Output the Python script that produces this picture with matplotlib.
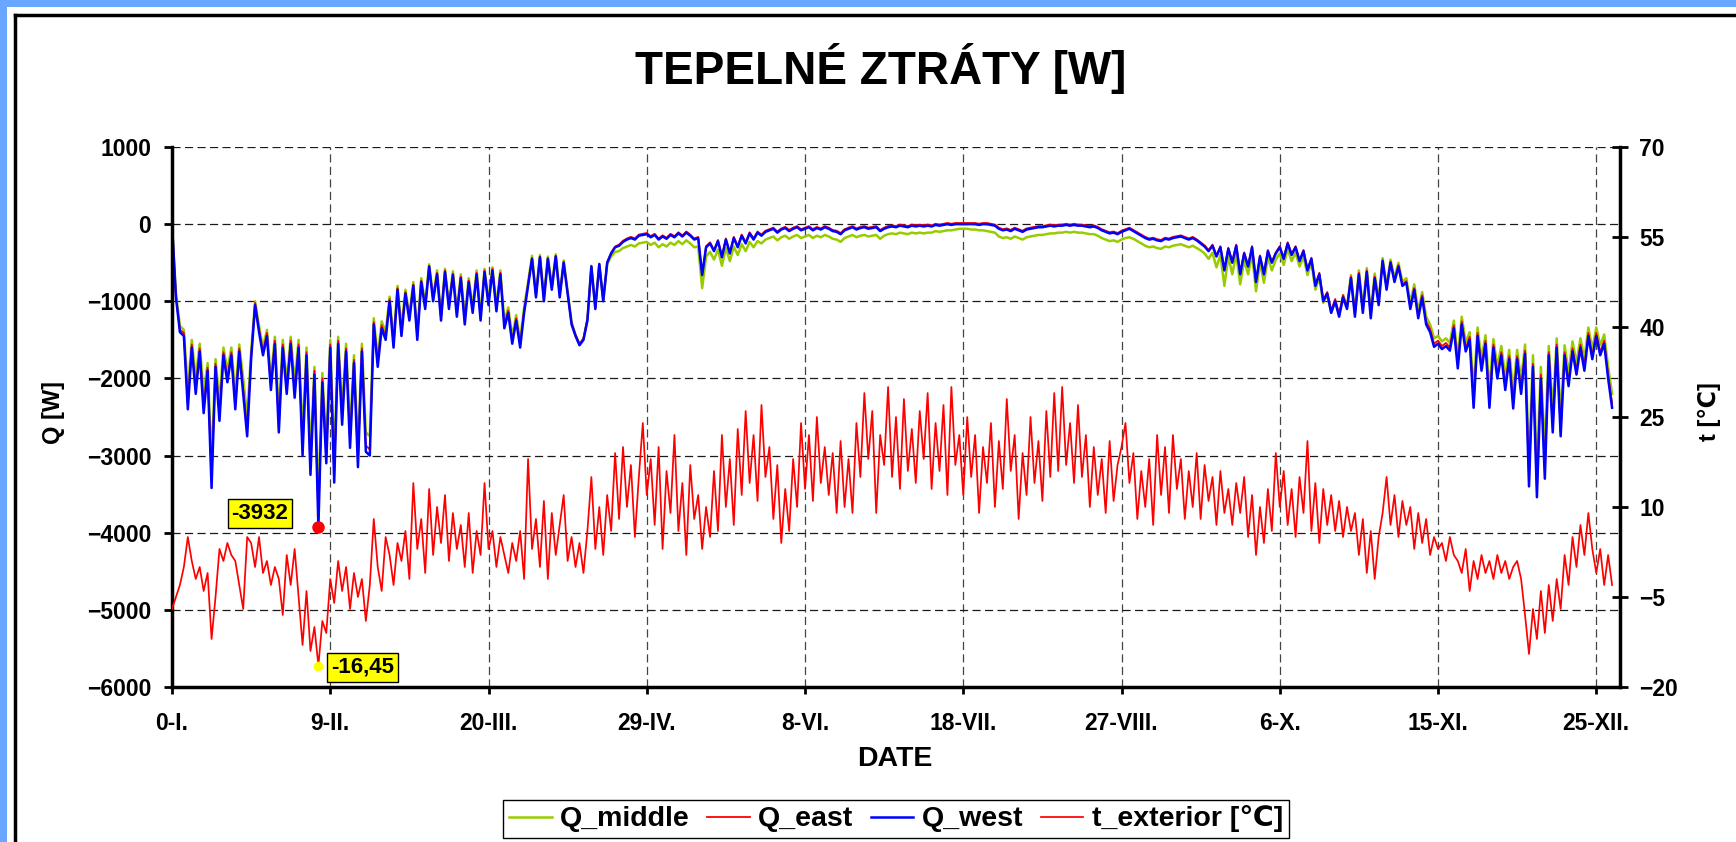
import numpy as np
import matplotlib
matplotlib.use("Agg")
import matplotlib.pyplot as plt
from matplotlib.patches import Rectangle
from matplotlib.lines import Line2D

plt.rcParams["font.family"] = ["Liberation Sans", "DejaVu Sans"]
plt.rcParams["font.weight"] = "bold"

# ------------------------------------------------------------
# Data (one value per day of the year)
# ------------------------------------------------------------
tick_days = [0, 40, 80, 120, 160, 200, 240, 280, 320, 360]
tick_labels = ["0-I.", "9-II.", "20-III.", "29-IV.", "8-VI.", "18-VII.",
               "27-VIII.", "6-X.", "15-XI.", "25-XII."]

# Q_west [W]
q_west = [
    0, -950, -1400, -1450, -2400, -1600, -2200, -1650, -2450, -1900,
    -3420, -1850, -2550, -1700, -2050, -1700, -2400, -1650, -2200, -2750,
    -1750, -1050, -1400, -1700, -1450, -2150, -1550, -2700, -1600, -2200,
    -1550, -2250, -1600, -3000, -1700, -3250, -1950, -3932, -2050, -3100,
    -1600, -3350, -1550, -2600, -1650, -2900, -1800, -3150, -1650, -2950,
    -3000, -1300, -1850, -1350, -1500, -1000, -1600, -850, -1450, -900,
    -1250, -800, -1500, -750, -1100, -550, -1000, -650, -1250, -620,
    -1100, -660, -1200, -700, -1300, -750, -1150, -650, -1250, -620,
    -1050, -600, -1130, -650, -1350, -1150, -1550, -1250, -1600, -1150,
    -800, -450, -950, -430, -1000, -450, -850, -420, -950, -500,
    -900, -1300, -1450, -1570, -1500, -1250, -550, -1100, -520, -1000,
    -500, -380, -300, -280, -230, -200, -180, -200, -150, -140,
    -130, -170, -140, -200, -160, -190, -140, -170, -120, -160,
    -110, -150, -200, -180, -660, -300, -250, -350, -220, -430,
    -200, -380, -180, -300, -150, -250, -120, -200, -110, -150,
    -100, -80, -60, -110, -70, -50, -90, -60, -40, -80,
    -60, -40, -80, -50, -70, -40, -60, -90, -100, -130,
    -80, -60, -40, -70, -50, -40, -60, -50, -40, -90,
    -60, -40, -30, -40, -20, -30, -40, -20, -30, -20,
    -30, -20, -30, -10, -20, -10, 0, -10, 0, 0,
    0, 0, 0, 0, -10, 0, 0, -10, -20, -60,
    -80, -70, -90, -60, -80, -100, -70, -60, -50, -40,
    -40, -30, -20, -30, -20, -20, -10, -20, -10, -20,
    -20, -30, -40, -30, -50, -80, -100, -120, -110, -130,
    -100, -80, -60, -90, -120, -150, -180, -200, -190, -210,
    -220, -190, -200, -180, -170, -160, -180, -200, -180, -210,
    -250, -290, -350, -280, -420, -300, -600, -320, -500, -280,
    -650, -380, -550, -300, -750, -420, -650, -350, -500, -380,
    -300, -450, -250, -400, -300, -480, -350, -600, -450, -800,
    -650, -1000, -900, -1150, -1000, -1200, -950, -1100, -700, -1200,
    -650, -1150, -620, -1220, -700, -1050, -480, -850, -500, -750,
    -550, -800, -760, -1100, -850, -1220, -950, -1300, -1400, -1590,
    -1550, -1620, -1580, -1640, -1350, -1870, -1300, -1650, -1500, -2380,
    -1450, -1900, -1550, -2380, -1600, -2000, -1700, -2150, -1750, -2390,
    -1750, -2200, -1680, -3400, -1850, -3540, -2000, -3300, -1700, -2700,
    -1600, -2750, -1700, -2100, -1650, -1950, -1600, -1900, -1450, -1750,
    -1450, -1700, -1550, -2000, -2380,
]

# Q_middle [W]
q_middle = [
    0, -900, -1320, -1370, -2150, -1500, -2000, -1550, -2200, -1800,
    -3100, -1750, -2300, -1600, -1900, -1600, -2200, -1560, -2000, -2500,
    -1650, -1000, -1320, -1600, -1370, -2000, -1460, -2450, -1500, -2050,
    -1460, -2050, -1500, -2750, -1600, -3000, -1850, -3600, -1930, -2850,
    -1500, -3050, -1460, -2400, -1550, -2650, -1700, -2900, -1550, -2700,
    -2750, -1220, -1720, -1260, -1400, -940, -1500, -800, -1350, -850,
    -1170, -750, -1400, -700, -1030, -520, -940, -600, -1170, -580,
    -1030, -610, -1120, -650, -1210, -700, -1080, -600, -1170, -580,
    -990, -560, -1060, -600, -1260, -1080, -1460, -1180, -1500, -1080,
    -750, -410, -900, -400, -940, -420, -800, -390, -900, -470,
    -870, -1270, -1440, -1560, -1490, -1230, -540, -1080, -520, -990,
    -520, -420, -360, -350, -310, -290, -270, -290, -250, -240,
    -230, -270, -240, -300, -260, -290, -240, -270, -220, -260,
    -210, -250, -300, -290, -830, -420, -360, -460, -330, -540,
    -310, -480, -290, -400, -260, -350, -230, -300, -220, -250,
    -200, -180, -160, -210, -170, -150, -190, -160, -140, -180,
    -160, -140, -180, -150, -170, -140, -160, -190, -200, -230,
    -180, -160, -140, -170, -150, -140, -160, -150, -140, -190,
    -150, -130, -120, -130, -110, -120, -130, -110, -120, -110,
    -120, -110, -110, -90, -100, -90, -80, -80, -70, -60,
    -60, -60, -70, -70, -80, -80, -90, -100, -110, -160,
    -180, -170, -190, -160, -180, -200, -170, -160, -150, -140,
    -140, -130, -120, -120, -110, -110, -100, -110, -100, -110,
    -110, -120, -130, -130, -150, -180, -200, -220, -210, -230,
    -200, -180, -170, -190, -220, -250, -280, -300, -290, -310,
    -320, -290, -300, -280, -270, -260, -280, -300, -280, -310,
    -340, -380, -450, -370, -560, -400, -800, -420, -650, -380,
    -780, -470, -650, -390, -870, -500, -760, -430, -600, -460,
    -380, -530, -320, -480, -370, -550, -420, -660, -500, -850,
    -690, -1020, -910, -1150, -990, -1180, -920, -1070, -660, -1150,
    -600, -1080, -570, -1150, -640, -980, -440, -800, -460, -700,
    -500, -750, -700, -1020, -780, -1130, -880, -1200, -1300, -1480,
    -1450, -1520, -1480, -1540, -1250, -1730, -1200, -1530, -1400, -2150,
    -1340, -1750, -1440, -2150, -1490, -1850, -1580, -1980, -1630, -2170,
    -1630, -2020, -1560, -3050, -1700, -3150, -1850, -2950, -1580, -2450,
    -1480, -2500, -1570, -1930, -1520, -1800, -1480, -1750, -1340, -1620,
    -1340, -1570, -1430, -1850, -2200,
]

# Q_east [W]
q_east = [
    0, -940, -1370, -1410, -2330, -1560, -2140, -1610, -2380, -1860,
    -3330, -1810, -2480, -1660, -2000, -1660, -2340, -1610, -2140, -2670,
    -1710, -1020, -1360, -1660, -1410, -2090, -1510, -2630, -1560, -2140,
    -1510, -2190, -1560, -2920, -1660, -3160, -1900, -3820, -2000, -3010,
    -1560, -3260, -1510, -2530, -1610, -2820, -1760, -3060, -1610, -2870,
    -2920, -1270, -1800, -1310, -1460, -970, -1560, -830, -1410, -880,
    -1220, -780, -1460, -730, -1070, -540, -970, -630, -1220, -600,
    -1070, -640, -1170, -680, -1260, -730, -1120, -630, -1220, -600,
    -1020, -580, -1100, -630, -1310, -1120, -1510, -1220, -1560, -1120,
    -780, -440, -930, -420, -980, -440, -830, -410, -930, -490,
    -890, -1280, -1430, -1550, -1480, -1230, -540, -1080, -510, -980,
    -490, -370, -290, -265, -215, -185, -165, -185, -135, -125,
    -115, -155, -125, -185, -145, -175, -125, -155, -105, -145,
    -95, -135, -185, -165, -640, -285, -235, -335, -205, -410,
    -185, -365, -165, -285, -135, -235, -105, -185, -95, -135,
    -85, -65, -45, -95, -55, -35, -75, -45, -25, -65,
    -45, -25, -65, -35, -55, -25, -45, -75, -85, -115,
    -65, -45, -25, -55, -35, -25, -45, -35, -25, -75,
    -45, -25, -15, -25, -5, -15, -25, -5, -15, -5,
    -15, -5, -15, 5, -5, 5, 15, 5, 15, 15,
    15, 15, 15, 15, 5, 15, 15, 5, -5, -45,
    -65, -55, -75, -45, -65, -85, -55, -45, -35, -25,
    -25, -15, -5, -15, -5, -5, 5, -5, 5, -5,
    -5, -15, -25, -15, -35, -65, -85, -105, -95, -115,
    -85, -65, -45, -75, -105, -135, -165, -185, -175, -195,
    -205, -175, -185, -165, -155, -145, -165, -185, -165, -195,
    -235, -275, -335, -265, -405, -285, -585, -305, -485, -265,
    -635, -365, -535, -285, -735, -405, -635, -335, -485, -365,
    -285, -435, -235, -385, -285, -465, -335, -585, -435, -785,
    -630, -980, -880, -1120, -970, -1170, -920, -1070, -680, -1170,
    -630, -1120, -600, -1190, -680, -1020, -465, -830, -485, -730,
    -530, -780, -740, -1070, -830, -1190, -920, -1260, -1360, -1550,
    -1510, -1580, -1540, -1600, -1310, -1820, -1260, -1610, -1460, -2320,
    -1410, -1850, -1510, -2320, -1560, -1950, -1660, -2100, -1710, -2330,
    -1710, -2150, -1640, -3320, -1810, -3450, -1950, -3220, -1660, -2640,
    -1560, -2690, -1660, -2050, -1610, -1900, -1560, -1850, -1410, -1710,
    -1410, -1660, -1510, -1950, -2320,
]

# t_exterior [C]
t_ext = [
    -7, -5, -3, 0, 5, 1, -2, 0, -4, -1,
    -12, -5, 3, 1, 4, 2, 1, -3, -7, 5,
    4, 0, 5, -1, 1, -3, 0, -2, -8, 2,
    -3, 3, -5, -13, -4, -14, -10, -16.45, -9, -11,
    -2, -6, 1, -4, 0, -7, -1, -5, -2, -9,
    -3, 8, 0, -4, 5, 2, -3, 4, 1, 6,
    -2, 14, 3, 8, -1, 13, 2, 10, 4, 12,
    1, 9, 3, 7, 0, 9, -1, 6, 2, 14,
    3, 6, 0, 5, 2, -1, 4, 1, 6, -2,
    18, 3, 8, 0, 11, -2, 9, 2, 7, 12,
    1, 5, 0, 4, -1, 6, 15, 3, 10, 2,
    12, 6, 19, 8, 20, 10, 17, 5, 15, 24,
    12, 18, 7, 20, 3, 16, 9, 22, 6, 14,
    2, 17, 8, 12, 3, 10, 5, 16, 6, 22,
    10, 18, 7, 23, 12, 26, 14, 22, 11, 27,
    15, 20, 8, 17, 4, 13, 6, 18, 10, 24,
    13, 22, 11, 25, 14, 20, 12, 19, 9, 21,
    10, 18, 9, 24, 15, 29, 18, 26, 9, 22,
    17, 30, 15, 25, 13, 28, 16, 23, 14, 26,
    18, 29, 13, 24, 16, 27, 12, 30, 17, 22,
    12, 25, 15, 22, 9, 20, 14, 24, 10, 21,
    13, 28, 16, 22, 8, 19, 12, 25, 14, 21,
    11, 26, 15, 29, 16, 30, 17, 24, 14, 27,
    15, 22, 10, 20, 12, 18, 9, 21, 11, 17,
    20, 24, 14, 19, 8, 16, 10, 18, 7, 22,
    12, 20, 9, 22, 13, 18, 8, 16, 10, 19,
    8, 17, 11, 15, 7, 16, 9, 13, 7, 14,
    9, 15, 5, 12, 2, 10, 4, 13, 6, 19,
    10, 16, 7, 13, 5, 15, 9, 21, 6, 14,
    4, 13, 7, 12, 6, 11, 5, 10, 6, 9,
    2, 8, -1, 6, -2, 5, 9, 15, 7, 12,
    5, 11, 7, 10, 3, 9, 4, 8, 2, 5,
    3, 4, 1, 5, 2, 1, -1, 3, -4, 1,
    -2, 2, -1, 1, -2, 2, -1, 1, -2, 0,
    1, -2, -8, -14.5, -7, -12, -4, -11, -3, -9,
    -2, -7, 2, -3, 5, 0, 7, 2, 9, 3,
    -1, 3, -3, 2, -3,
]

days_west = np.arange(len(q_west))
days_middle = np.arange(len(q_middle))
days_east = np.arange(len(q_east))
days_t = np.arange(len(t_ext))

# ------------------------------------------------------------
# Figure and framing
# ------------------------------------------------------------
W, H = 1736, 842
fig = plt.figure(figsize=(W / 100, H / 100), dpi=100)
fig.patch.set_facecolor("#69A6FF")
fig.add_artist(Rectangle((7 / W, 0), 1, 1 - 7 / H, transform=fig.transFigure,
                         facecolor="white", edgecolor="none", zorder=-10))
fig.add_artist(Line2D([14.5 / W, 14.5 / W], [0, 1 - 14.5 / H], transform=fig.transFigure,
                      color="black", lw=2.5, solid_capstyle="projecting", zorder=-9))
fig.add_artist(Line2D([14.5 / W, 1], [1 - 14.5 / H, 1 - 14.5 / H], transform=fig.transFigure,
                      color="black", lw=2.5, solid_capstyle="projecting", zorder=-9))

fig.text(881 / W, 1 - 69 / H, "TEPELNÉ ZTRÁTY [W]", ha="center", va="center",
         fontsize=33, fontweight="bold")

ax = fig.add_axes([172 / W, 1 - 687 / H, (1620 - 172) / W, (687 - 147) / H])
ax.patch.set_alpha(0)
ax2 = ax.twinx()

l_mid, = ax.plot(days_middle, q_middle, color="#99CC00", lw=1.8, label="Q_middle")
l_east, = ax.plot(days_east, q_east, color="#FF0000", lw=1.3, label="Q_east")
l_west, = ax.plot(days_west, q_west, color="#0000FF", lw=1.8, label="Q_west")
l_t, = ax2.plot(days_t, t_ext, color="#FF0000", lw=1.25, label="t_exterior [℃]")

ax.set_xlim(0, 366)
ax.set_ylim(-6000, 1000)
ax.set_yticks(range(-6000, 1001, 1000))
ax.set_xticks(tick_days)
ax.set_xticklabels(tick_labels)
ax2.set_ylim(-20, 70)
ax2.set_yticks(range(-20, 71, 15))

ax.set_axisbelow(True)
ax.yaxis.grid(True, color="#1a1a1a", linestyle=(0, (6.5, 3.5)), linewidth=0.9)
ax.xaxis.grid(True, color="#444444", linestyle=(0, (6.5, 3.5)), linewidth=0.9)

for side in ["top", "right"]:
    ax.spines[side].set_visible(False)
for side in ["top", "left", "bottom"]:
    ax2.spines[side].set_visible(False)
for sp in [ax.spines["left"], ax.spines["bottom"], ax2.spines["right"]]:
    sp.set_linewidth(2.5)
    sp.set_color("black")

ax.tick_params(axis="y", direction="out", length=6, width=2, pad=9, labelsize=16.5)
ax.tick_params(axis="x", direction="out", length=5, width=2, pad=13, labelsize=16.5)
ax2.tick_params(axis="y", direction="inout", length=12, width=2, pad=8, labelsize=16.5)

# ------------------------------------------------------------
# Minimum markers with labels
# ------------------------------------------------------------
i_q = int(np.argmin(q_west))
q_min = q_west[i_q]
ax2.plot([days_west[i_q]], [q_min], "o", color="#FF0000", ms=8, mec="#FF0000",
         transform=ax.transData, zorder=6)
ax2.annotate(f"{q_min:.0f}", xy=(days_west[i_q], q_min), xycoords=ax.transData,
             xytext=(-42, 10), textcoords="offset points", ha="center", va="center",
             fontsize=16, zorder=7,
             bbox=dict(boxstyle="square,pad=0.18", fc="#FFFF00", ec="black", lw=1))

i_t = int(np.argmin(t_ext))
t_min = t_ext[i_t]
ax2.plot([days_t[i_t]], [t_min], "o", color="#FFFF00", ms=6, mec="#FFFF00", zorder=6)
ax2.annotate(f"{t_min:.2f}".replace(".", ","), xy=(days_t[i_t], t_min),
             xytext=(32, -1), textcoords="offset points", ha="center", va="center",
             fontsize=16, zorder=7,
             bbox=dict(boxstyle="square,pad=0.18", fc="#FFFF00", ec="black", lw=1))

# ------------------------------------------------------------
# Axis titles and legend
# ------------------------------------------------------------
fig.text(53.5 / W, 1 - 412 / H, "Q [W]", rotation=90, ha="center", va="center", fontsize=17)
fig.text(1709 / W, 1 - 412 / H, "t [℃]", rotation=90, ha="center", va="center", fontsize=17)
fig.text(895 / W, 1 - 759 / H, "DATE", ha="center", va="center", fontsize=20.5)

leg = fig.legend([l_mid, l_east, l_west, l_t],
                 ["Q_middle", "Q_east", "Q_west", "t_exterior [℃]"],
                 loc="center", bbox_to_anchor=(896 / W, 1 - 819 / H), ncol=4,
                 fontsize=20.5, frameon=True, fancybox=False, edgecolor="black",
                 framealpha=1, handlelength=1.5, handletextpad=0.3,
                 columnspacing=0.6, borderpad=0.2)
leg.get_frame().set_linewidth(1.0)

fig.savefig("out.png", dpi=100, facecolor=fig.get_facecolor())
